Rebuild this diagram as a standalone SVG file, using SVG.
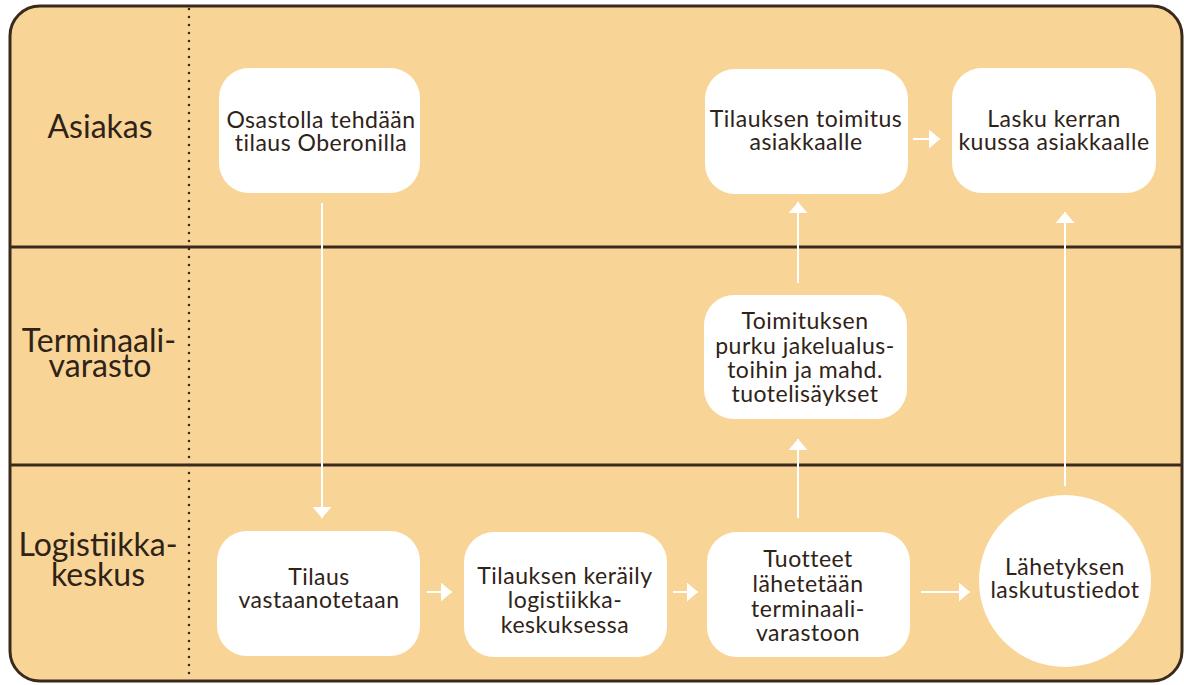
<svg xmlns="http://www.w3.org/2000/svg" width="1184" height="685" viewBox="0 0 1184 685">
<style>
.lane{font-family:Lato,"Open Sans",sans-serif;font-size:32px;fill:#2f2318;text-anchor:middle}
.t{font-family:Lato,"Open Sans",sans-serif;font-size:23px;fill:#2f2318;text-anchor:middle;letter-spacing:0.5px}
.box{fill:#ffffff}
.con line{stroke:#ffffff;stroke-width:2}
.div{stroke:#3a2a1d;stroke-width:3}
</style>
<defs>
<marker id="ah" viewBox="0 0 11 19" refX="11" refY="9.5" markerWidth="11" markerHeight="19" markerUnits="userSpaceOnUse" orient="auto">
<path d="M0,0 L11,9.5 L0,19 Z" fill="#ffffff"/>
</marker>
</defs>
<rect x="0" y="0" width="1184" height="685" fill="#ffffff"/>
<rect x="10" y="6" width="1172" height="675" rx="30" fill="#F8D597" stroke="#3a2a1d" stroke-width="3"/>
<line class="div" x1="10" y1="247" x2="1182" y2="247"/>
<line class="div" x1="10" y1="465" x2="1182" y2="465"/>
<line x1="189" y1="9" x2="189" y2="681" stroke="#3a2a1d" stroke-width="2.6" stroke-linecap="round" stroke-dasharray="0 8"/>
<g id="lane-asiakas"><text class="lane" x="100" y="138">Asiakas</text></g>
<g id="lane-terminaali"><text class="lane" x="99" y="352">Terminaali-</text><text class="lane" x="100" y="377">varasto</text></g>
<g id="lane-logistiikka"><text class="lane" x="98" y="556">Logistiikka-</text><text class="lane" x="98" y="586">keskus</text></g>
<g class="con" id="connectors">
<line x1="322" y1="203" x2="322" y2="518" marker-end="url(#ah)"/>
<line x1="427" y1="592" x2="452" y2="592" marker-end="url(#ah)"/>
<line x1="673" y1="592" x2="698" y2="592" marker-end="url(#ah)"/>
<line x1="921" y1="592" x2="970" y2="592" marker-end="url(#ah)"/>
<line x1="798" y1="518" x2="798" y2="439" marker-end="url(#ah)"/>
<line x1="798" y1="283" x2="798" y2="202" marker-end="url(#ah)"/>
<line x1="1065" y1="486" x2="1065" y2="212" marker-end="url(#ah)"/>
<line x1="913" y1="139" x2="940" y2="139" marker-end="url(#ah)"/>
</g>
<g id="n-osastolla"><rect class="box" x="219" y="68" width="201" height="125" rx="30"/><text class="t" x="321" y="128">Osastolla tehdään</text><text class="t" x="321" y="151">tilaus Oberonilla</text></g>
<g id="n-toimitus"><rect class="box" x="705" y="69" width="203" height="125" rx="30"/><text class="t" x="806" y="127">Tilauksen toimitus</text><text class="t" x="806" y="150">asiakkaalle</text></g>
<g id="n-lasku"><rect class="box" x="952" y="68" width="204" height="125" rx="30"/><text class="t" x="1054" y="127">Lasku kerran</text><text class="t" x="1054" y="150">kuussa asiakkaalle</text></g>
<g id="n-purku"><rect class="box" x="704" y="295" width="203" height="124" rx="30"/><text class="t" x="805" y="329">Toimituksen</text><text class="t" x="805" y="354">purku jakelualus-</text><text class="t" x="805" y="378">toihin ja mahd.</text><text class="t" x="805" y="402">tuotelisäykset</text></g>
<g id="n-vastaanotetaan"><rect class="box" x="217" y="531" width="203" height="125" rx="30"/><text class="t" x="319" y="585">Tilaus</text><text class="t" x="319" y="608">vastaanotetaan</text></g>
<g id="n-keraily"><rect class="box" x="464" y="532" width="203" height="125" rx="30"/><text class="t" x="565" y="584">Tilauksen keräily</text><text class="t" x="565" y="608">logistiikka-</text><text class="t" x="565" y="633">keskuksessa</text></g>
<g id="n-tuotteet"><rect class="box" x="707" y="532" width="203" height="125" rx="30"/><text class="t" x="808" y="567">Tuotteet</text><text class="t" x="808" y="592">lähetetään</text><text class="t" x="808" y="617">terminaali-</text><text class="t" x="808" y="641">varastoon</text></g>
<g id="n-lahetys"><circle class="box" cx="1065" cy="581" r="86"/><text class="t" x="1065" y="575">Lähetyksen</text><text class="t" x="1065" y="598">laskutustiedot</text></g>
</svg>
